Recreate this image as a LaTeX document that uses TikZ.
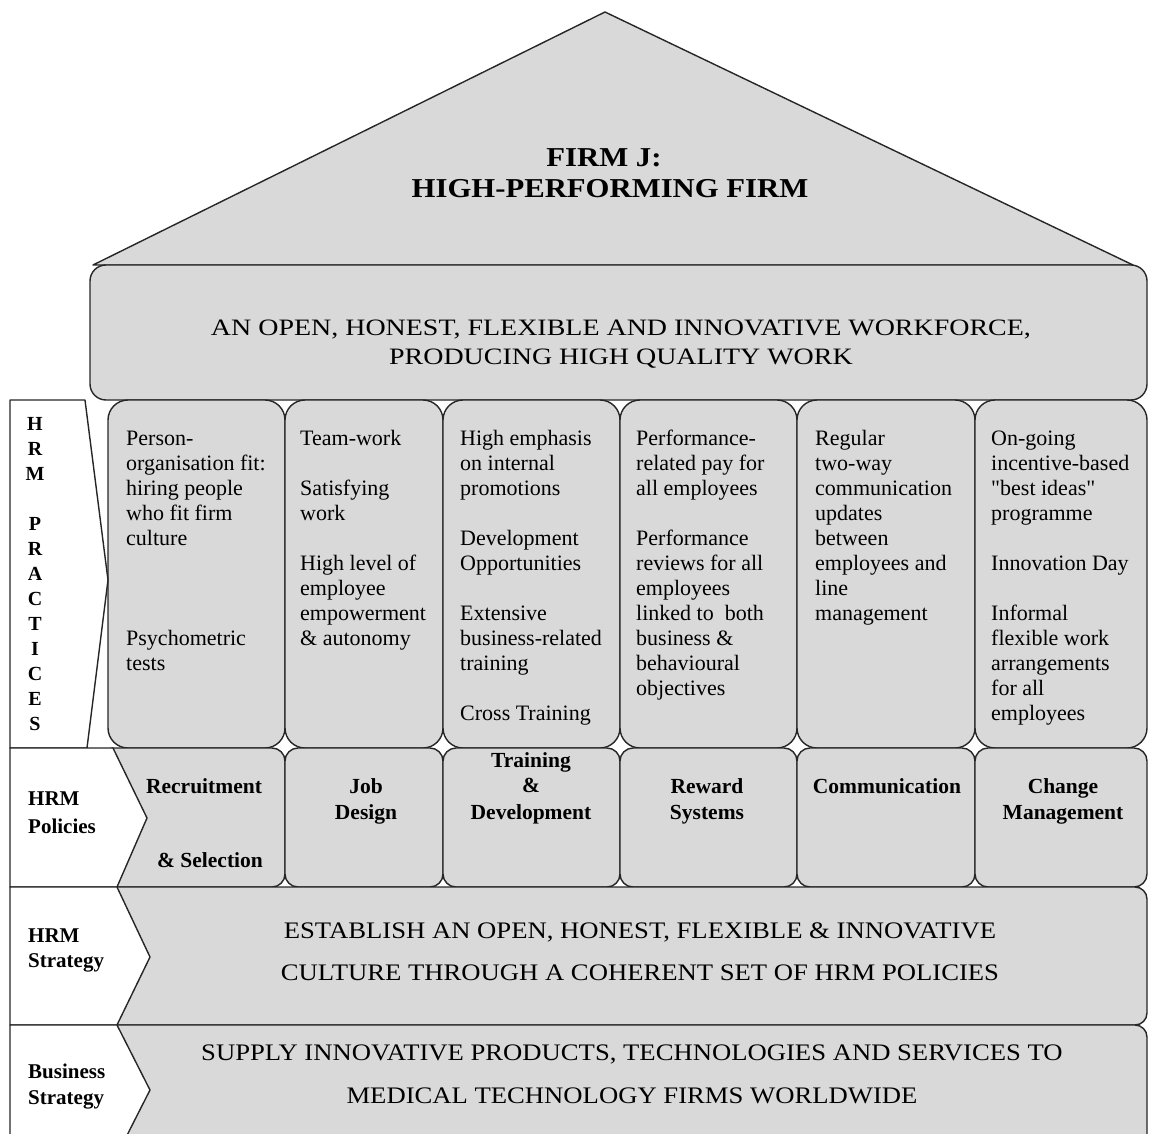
\documentclass[tikz,border=0pt]{standalone}
\usepackage{fontspec}
\setmainfont{Liberation Serif}
\newfontfamily\widefont[FakeStretch=1.125]{Liberation Serif}
\newfontfamily\bandfont[FakeStretch=1.19]{Liberation Serif}
\newfontfamily\straightquotes[Ligatures=TeXOff]{Liberation Serif}
\begin{document}
\begin{tikzpicture}[x=1pt,y=-1pt,line join=round,
  panel/.style={fill=gray!30,draw=black!85,line width=1.4pt},
  pillar/.style={panel,rounded corners=20pt},
  polbox/.style={panel,rounded corners=13pt},
  band/.style={panel,rounded corners=12pt},
  sidelabel/.style={fill=white,draw=black!85,line width=1.4pt},
  txt/.style={inner sep=0pt,anchor=base},
  practice/.style={inner sep=0pt,anchor=base west,font=\fontsize{22}{25}\selectfont},
  policy/.style={txt,font=\bfseries\fontsize{21.5}{25}\selectfont},
  sidetext/.style={inner sep=0pt,anchor=base west,font=\bfseries\fontsize{21}{25}\selectfont},
  letter/.style={txt,font=\bfseries\fontsize{20}{25}\selectfont},
  bigcaps/.style={txt,font=\bandfont\fontsize{23.5}{28}\selectfont},
  strat/.style={txt,font=\widefont\fontsize{23.7}{28}\selectfont},
  title/.style={txt,font=\widefont\bfseries\fontsize{27.3}{32}\selectfont}]

\useasboundingbox (0,0) rectangle (1149,1134);
\clip (0,0) rectangle (1149,1134);

% roof and the workforce band under it
\draw[panel] (605,12) -- (1133,265) -- (93,265) -- cycle;
\draw[panel,rounded corners=16pt] (90,265) rectangle (1147,400);

% practice pillars
\foreach \a/\b in {108/285,285/443,443/620,620/797,797/975,975/1147}
  \draw[pillar] (\a,400) rectangle (\b,748);

% policy boxes
\draw[polbox] (100,748) rectangle (285,887);
\foreach \a/\b in {285/443,443/620,620/797,797/975,975/1147}
  \draw[polbox] (\a,748) rectangle (\b,887);

% strategy bands
\draw[band] (100,887) rectangle (1147,1025);
\draw[band] (100,1025) rectangle (1147,1175);

% white row labels with chevron edges
\draw[sidelabel] (10,400) -- (85,400) -- (108,580) -- (87,748) -- (10,748) -- cycle;
\draw[sidelabel] (10,748) -- (113,748) -- (147,818) -- (117,887) -- (10,887) -- cycle;
\draw[sidelabel] (10,887) -- (117,887) -- (150,957) -- (117,1025) -- (10,1025) -- cycle;
\draw[sidelabel] (10,1025) -- (117,1025) -- (150,1090) -- (117,1155) -- (10,1155) -- cycle;

% roof title
\node[title] (firm) at (604,167) {FIRM J:};
\node[title] (hpf) at (610,198) {HIGH-PERFORMING FIRM};

% workforce band
\node[bigcaps] (wf1) at (621,335) {AN OPEN, HONEST, FLEXIBLE AND INNOVATIVE WORKFORCE,};
\node[bigcaps] (wf2) at (621,364) {PRODUCING HIGH QUALITY WORK};

% vertical row label
\foreach \l/\k in {H/0,R/1,M/2,P/4,R/5,A/6,C/7,T/8,I/9,C/10,E/11,S/12}
  \node[letter] (hp-\k) at (35,430+25*\k) {\l};

% practices, one line per node
\foreach \k/\t in {0/Person-,1/organisation fit:,2/hiring people,3/who fit firm,4/culture,8/Psychometric,9/tests}
  \node[practice] (pa-\k) at (126,445+25*\k) {\t};
\foreach \k/\t in {0/Team-work,2/Satisfying,3/work,5/High level of,6/employee,7/empowerment,8/\& autonomy}
  \node[practice] (pb-\k) at (300,445+25*\k) {\t};
\foreach \k/\t in {0/High emphasis,1/on internal,2/promotions,4/Development,5/Opportunities,7/Extensive,8/business-related,9/training,11/Cross Training}
  \node[practice] (pc-\k) at (460,445+25*\k) {\t};
\foreach \k/\t in {0/Performance-,1/related pay for,2/all employees,4/Performance,5/reviews for all,6/employees,7/linked to~ both,8/business \&,9/behavioural,10/objectives}
  \node[practice] (pd-\k) at (636,445+25*\k) {\t};
\foreach \k/\t in {0/Regular,1/two-way,2/communication,3/updates,4/between,5/employees and,6/line,7/management}
  \node[practice] (pe-\k) at (815,445+25*\k) {\t};
\foreach \k/\t in {0/On-going,1/incentive-based,2/{\straightquotes"best ideas"},3/programme,5/Innovation Day,7/Informal,8/flexible work,9/arrangements,10/for all,11/employees}
  \node[practice] (pf-\k) at (991,445+25*\k) {\t};

% policies
\node[policy] (pol1a) at (204,793) {Recruitment};
\node[policy] (pol1b) at (210,867) {\& Selection};
\node[policy] (pol2a) at (366,793) {Job};
\node[policy] (pol2b) at (366,819) {Design};
\node[policy] (pol3a) at (531,767) {Training};
\node[policy] (pol3b) at (531,792) {\&};
\node[policy] (pol3c) at (531,819) {Development};
\node[policy] (pol4a) at (707,793) {Reward};
\node[policy] (pol4b) at (707,819) {Systems};
\node[policy] (pol5a) at (887,793) {Communication};
\node[policy] (pol6a) at (1063,793) {Change};
\node[policy] (pol6b) at (1063,819) {Management};

% row labels
\node[sidetext] (lp1) at (28,805) {HRM};
\node[sidetext] (lp2) at (28,833) {Policies};
\node[sidetext] (ls1) at (28,942) {HRM};
\node[sidetext] (ls2) at (28,967) {Strategy};
\node[sidetext] (lb1) at (28,1078) {Business};
\node[sidetext] (lb2) at (28,1104) {Strategy};

% strategy statements
\node[strat] (hs1) at (640,938) {ESTABLISH AN OPEN, HONEST, FLEXIBLE \& INNOVATIVE};
\node[strat] (hs2) at (640,980) {CULTURE THROUGH A COHERENT SET OF HRM POLICIES};
\node[strat] (bs1) at (632,1060) {SUPPLY INNOVATIVE PRODUCTS, TECHNOLOGIES AND SERVICES TO};
\node[strat] (bs2) at (632,1103) {MEDICAL TECHNOLOGY FIRMS WORLDWIDE};
\end{tikzpicture}
\end{document}
